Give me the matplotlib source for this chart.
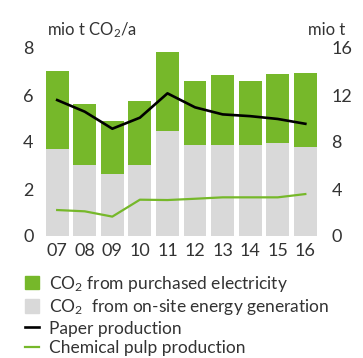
import numpy as np
import matplotlib
matplotlib.use("Agg")
import matplotlib.pyplot as plt
from matplotlib.patches import Patch
from matplotlib.lines import Line2D

plt.rcParams['font.family'] = ['Lato', 'DejaVu Sans']
plt.rcParams['mathtext.fontset'] = 'custom'
plt.rcParams['mathtext.rm'] = 'Lato'
plt.rcParams['mathtext.it'] = 'Lato'

years = ["07", "08", "09", "10", "11", "12", "13", "14", "15", "16"]
co2_total = [7.0, 5.62, 4.89, 5.76, 7.83, 6.61, 6.85, 6.61, 6.91, 6.95]
co2_onsite = [3.70, 3.03, 2.65, 3.03, 4.47, 3.87, 3.87, 3.87, 3.96, 3.79]
paper = [11.57, 10.58, 9.13, 10.07, 12.14, 10.95, 10.35, 10.2, 9.96, 9.55]
pulp = [2.21, 2.1, 1.65, 3.09, 3.06, 3.17, 3.29, 3.29, 3.29, 3.57]

co2_elec = [t - o for t, o in zip(co2_total, co2_onsite)]

green = "#76b82a"
grey = "#d9d9d9"
txt = "#333333"

fig = plt.figure(figsize=(3.63, 3.58), dpi=100)
W, H = 363, 358
ax = fig.add_axes([42 / W, 1 - 236 / H, (320.5 - 42) / W, (236 - 48) / H])
ax2 = ax.twinx()

x = np.arange(len(years))
ax.bar(x, co2_onsite, width=0.83, color=grey)
ax.bar(x, co2_elec, bottom=co2_onsite, width=0.83, color=green)
ax.set_xlim(-0.55, 9.55)
ax.set_ylim(0, 8)
ax.set_yticks([0, 2, 4, 6, 8])
ax.set_xticks(x)
ax.set_xticklabels(years)

ax2.plot(x, paper, color="black", lw=1.9)
ax2.plot(x, pulp, color=green, lw=1.6)
ax2.set_ylim(0, 16)
ax2.set_yticks([0, 4, 8, 12, 16])

for a in (ax, ax2):
    for s in a.spines.values():
        s.set_visible(False)
    a.tick_params(length=0, labelsize=13, colors=txt)
ax.tick_params(axis='y', pad=6)
ax.tick_params(axis='x', pad=5)
ax2.tick_params(axis='y', pad=8)

fig.text(47 / W, 1 - 30 / H, "mio t CO$_2$/a", fontsize=12, color=txt, va='center', ha='left')
fig.text(345 / W, 1 - 30 / H, "mio t", fontsize=12, color=txt, va='center', ha='right')

handles = [
    Patch(color=green),
    Patch(color=grey),
    Line2D([], [], color="black", lw=1.9),
    Line2D([], [], color=green, lw=1.6),
]
labels = [
    "CO$_2$ from purchased electricity",
    "CO$_2$  from on-site energy generation",
    "Paper production",
    "Chemical pulp production",
]
fig.legend(handles, labels, loc='upper left', bbox_to_anchor=(16 / W, 1 - 265 / H),
           frameon=False, fontsize=12.5, handlelength=0.8, handleheight=0.8,
           handletextpad=0.6, labelspacing=0.2, borderpad=0, labelcolor=txt)

fig.savefig("out.png", dpi=100)
